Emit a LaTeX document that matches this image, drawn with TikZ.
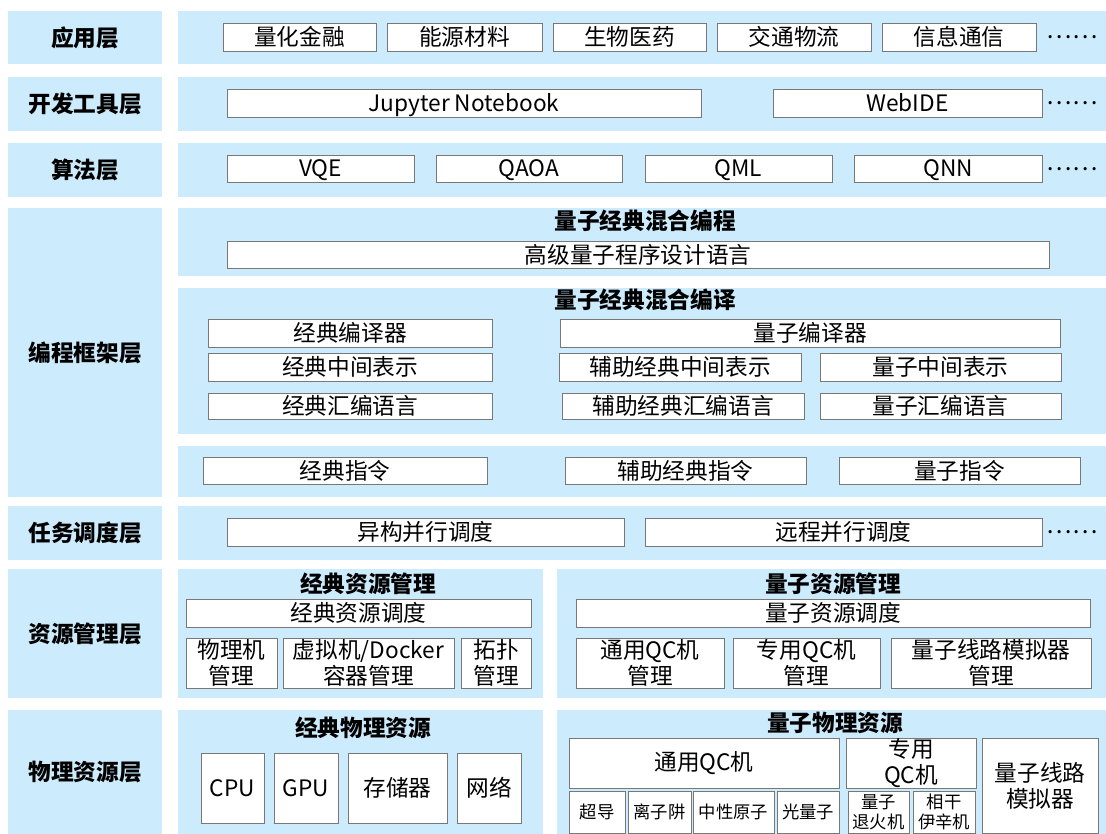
\documentclass[tikz,border=0pt]{standalone}
\usepackage{fontspec}
\setmainfont{Noto Sans CJK SC}
\definecolor{bg}{RGB}{204,235,252}
\definecolor{bd}{RGB}{120,120,120}
\tikzset{
  panel/.style={fill=bg, draw=none},
  lab/.style={fill=bg, draw=none, inner sep=0pt, font=\fontsize{17}{20}\selectfont\bfseries},
  bxs/.style={draw=bd, fill=white, line width=0.7pt, inner sep=0pt, align=center, font=\fontsize{17}{19.5}\selectfont},
  one/.style={execute at begin node={\vphantom{国}}},
  small/.style={font=\fontsize{13}{15}\selectfont},
  ttl/.style={inner sep=0pt, font=\fontsize{17}{20}\selectfont\bfseries},
  dotsty/.style={inner sep=0pt, font=\fontsize{18}{20}\selectfont},
}
\newcommand\bx[7][one]{\node[bxs, #1, minimum width={(#5-#3)*0.75pt}, minimum height={(#6-#4)*0.75pt}] (#2) at ({(#3+#5)/2},{(#4+#6)/2}) {#7};}
\newcommand\lb[4]{\node[lab, minimum width={154*0.75pt}, minimum height={(#3-#2)*0.75pt}] (#1) at (85,{(#2+#3)/2}) {#4};}
\newcommand\pn[4]{\fill[panel] (#1,#2) rectangle (#3,#4);}
\begin{document}
\begin{tikzpicture}[x=0.75pt,y=-0.75pt]
\useasboundingbox (0,0) rectangle (1106,834);
\fill[white] (0,0) rectangle (1106,834);
% layer labels
\lb{L1}{11}{64}{应用层}
\lb{L2}{77}{131}{开发工具层}
\lb{L3}{143}{197}{算法层}
\lb{L4}{208}{497}{编程框架层}
\lb{L5}{506}{560}{任务调度层}
\lb{L6}{569}{698}{资源管理层}
\lb{L7}{710}{834}{物理资源层}
% panels
\pn{178}{11}{1106}{64}
\pn{178}{77}{1106}{131}
\pn{178}{143}{1106}{197}
\pn{178}{208}{1106}{276}
\pn{178}{288}{1106}{434}
\pn{178}{446}{1106}{497}
\pn{178}{506}{1106}{560}
\pn{178}{569}{543}{698}
\pn{557}{569}{1106}{698}
\pn{178}{710}{543}{834}
\pn{557}{710}{1106}{834}
% row 1
\bx{a1}{223}{23}{376}{51}{量化金融}
\bx{a2}{387}{23}{542}{51}{能源材料}
\bx{a3}{553}{23}{706}{51}{生物医药}
\bx{a4}{717}{23}{871}{51}{交通物流}
\bx{a5}{882}{23}{1036}{51}{信息通信}
\node[dotsty] (ad) at (1072,37) {……};
% row 2
\bx{b1}{227}{89}{701}{117}{\smash{Jupyter Notebook}}
\bx{b2}{773}{89}{1042}{117}{\smash{WebIDE}}
\node[dotsty] (bd) at (1072,103) {……};
% row 3
\bx{c1}{227}{155}{414}{182}{\smash{VQE}}
\bx{c2}{436}{155}{622}{182}{\smash{QAOA}}
\bx{c3}{645}{155}{832}{182}{\smash{QML}}
\bx{c4}{854}{155}{1042}{182}{\smash{QNN}}
\node[dotsty] (cd) at (1072,169) {……};
% row 4
\node[ttl] (t4a) at (645,221) {量子经典混合编程};
\bx{d1}{227}{241}{1049}{268}{高级量子程序设计语言}
\node[ttl] (t4b) at (645,300) {量子经典混合编译};
\bx{e1}{208}{319}{492}{347}{经典编译器}
\bx{e2}{560}{319}{1060}{347}{量子编译器}
\bx{e3}{208}{353}{492}{381}{经典中间表示}
\bx{e4}{559}{353}{801}{381}{辅助经典中间表示}
\bx{e5}{820}{353}{1061}{381}{量子中间表示}
\bx{e6}{208}{393}{492}{419}{经典汇编语言}
\bx{e7}{562}{393}{804}{419}{辅助经典汇编语言}
\bx{e8}{820}{393}{1061}{419}{量子汇编语言}
\bx{f1}{203}{457}{487}{484}{经典指令}
\bx{f2}{565}{457}{806}{484}{辅助经典指令}
\bx{f3}{839}{457}{1080}{484}{量子指令}
% row 5
\bx{g1}{227}{518}{624}{546}{异构并行调度}
\bx{g2}{645}{518}{1042}{546}{远程并行调度}
\node[dotsty] (gd) at (1072,532) {……};
% row 6
\node[ttl] (t6a) at (368,584) {经典资源管理};
\bx{h1}{186}{599}{531}{627}{经典资源调度}
\bx[]{h2}{186}{638}{277}{688}{物理机\\管理}
\bx[]{h3}{283}{638}{454}{688}{虚拟机/Docker\\容器管理}
\bx[]{h4}{461}{638}{531}{688}{拓扑\\管理}
\node[ttl] (t6b) at (833,584) {量子资源管理};
\bx{i1}{576}{599}{1090}{627}{量子资源调度}
\bx[]{i2}{576}{638}{724}{688}{通用QC机\\管理}
\bx[]{i3}{733}{638}{880}{688}{专用QC机\\管理}
\bx[]{i4}{891}{638}{1091}{688}{量子线路模拟器\\管理}
% row 7
\node[ttl] (t7a) at (363,728) {经典物理资源};
\bx{j1}{201}{753}{264}{823}{\smash{CPU}}
\bx{j2}{274}{753}{338}{823}{\smash{GPU}}
\bx{j3}{348}{753}{447}{823}{存储器}
\bx{j4}{457}{753}{521}{823}{网络}
\node[ttl] (t7b) at (835,723) {量子物理资源};
\bx{k1}{569}{738}{839}{788}{通用QC机}
\bx[one,small]{k2}{569}{791}{625}{833}{超导}
\bx[one,small]{k3}{628}{791}{691}{833}{离子阱}
\bx[one,small]{k4}{693}{791}{774}{833}{中性原子}
\bx[one,small]{k5}{777}{791}{839}{833}{光量子}
\bx[]{k6}{846}{738}{976}{788}{专用\\QC机}
\bx[small]{k7}{848}{791}{909}{833}{量子\\退火机}
\bx[small]{k8}{913}{791}{975}{833}{相干\\伊辛机}
\bx[]{k9}{982}{738}{1098}{833}{量子线路\\模拟器}
\end{tikzpicture}
\end{document}
